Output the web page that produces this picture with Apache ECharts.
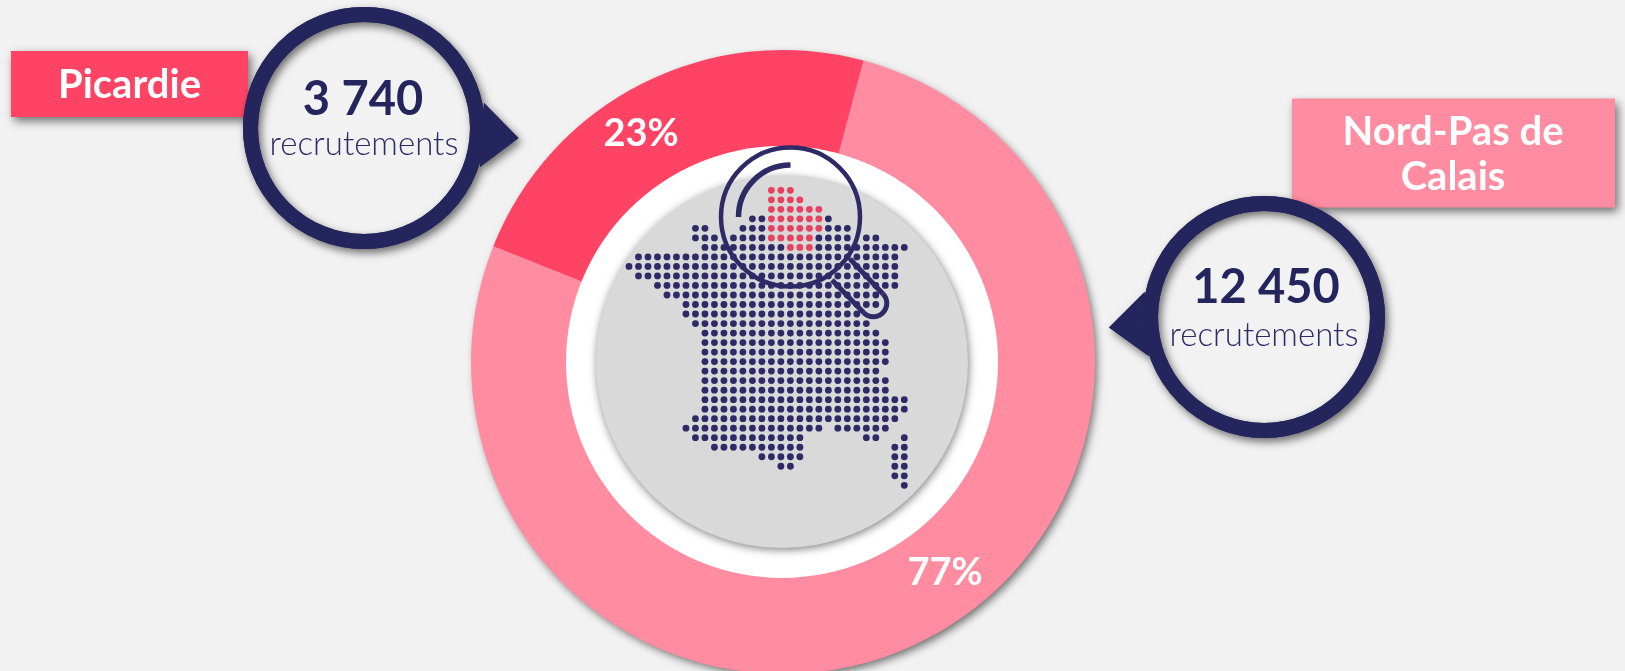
<!DOCTYPE html>
<html>
<head>
<meta charset="utf-8">
<title>Recrutements</title>
<script src="https://cdn.jsdelivr.net/npm/echarts@6/dist/echarts.min.js"></script>
<style>
html, body { margin: 0; padding: 0; background: #f2f2f2; }
#chart { width: 1625px; height: 671px; }
</style>
</head>
<body>
<div id="chart"></div>
<script>
const regions = ['Picardie', 'Nord-Pas de\nCalais'];
const recruitments = [3740, 12450];
const unitLabel = 'recrutements';

// dot map of France: n = navy dot, r = highlighted region
const mapRows = [
  '...............rrr',
  '...............rrrr',
  '...............rrrrrr',
  '.............nnrrrrrrn',
  '.......nn...nnnrrrrrrnnn',
  '.......nnn.nnnnrrrrrnnnn.nn',
  '........nnnnnnnnnrrrnnnnnnnnnn',
  '.nnnnnnnnnnnnnnnnnnnnnnnnnnnn',
  'nnnnnnnnnnnnnnnnnnnnnnnnnnnnn',
  '.nnnnnnnnnnnnnnnnnnnnnnnnnnnn',
  '...nnnnnnnnnnnnnnnnnnnnnnnnnn',
  '....nnnnnnnnnnnnnnnnnnnnnnn',
  '......nnnnnnnnnnnnnnnnnnnnn',
  '......nnnnnnnnnnnnnnnnnnn',
  '.......nnnnnnnnnnnnnnnnnnn',
  '........nnnnnnnnnnnnnnnnnnn',
  '........nnnnnnnnnnnnnnnnnnnn',
  '........nnnnnnnnnnnnnnnnnnnn',
  '........nnnnnnnnnnnnnnnnnnnn',
  '........nnnnnnnnnnnnnnnnnnn',
  '........nnnnnnnnnnnnnnnnnnnn',
  '........nnnnnnnnnnnnnnnnnnnn',
  '........nnnnnnnnnnnnnnnnnnnnnn',
  '........nnnnnnnnnnnnnnnnnnnnnn',
  '.......nnnnnnnnnnnnnnnnnnnnnn',
  '......nnnnnnnnnnnnnnn.nnnnnn',
  '.......nnnnnnnnnnnn......nn..n',
  '.........nnnnnnnnnn.........nn',
  '..............nnnnn.........nn',
  '................nn..........nn',
  '............................nn',
  '.............................n'
];

const pink = '#ff8ca1';
const red = '#ff4365';
const navy = '#23255c';
const dotNavy = '#2d2a66';
const dotRed = '#e8405f';
const font = 'Lato, "Open Sans", sans-serif';
const shadow = { shadowBlur: 9, shadowOffsetX: 3, shadowOffsetY: 4, shadowColor: 'rgba(0,0,0,0.55)' };

const navyDots = [];
const redDots = [];
mapRows.forEach((row, y) => {
  row.split('').forEach((c, x) => {
    if (c === 'n') navyDots.push([x, y]);
    if (c === 'r') redDots.push([x, y]);
  });
});

function formatCount(v) {
  return String(v).replace(/\B(?=(\d{3})+$)/g, ' ');
}

// bubble with pointer: ring stroked without fill so its shadow also falls inside,
// then a clean copy on top so the pointer and ring merge
function callout(cx, cy, tip, base1, base2, value, numX, numY, unitY) {
  const points = [base1, tip, base2];
  const ring = { cx, cy, r: 113.5 };
  return [
    { type: 'polygon', z: 10, shape: { points }, style: Object.assign({ fill: navy }, shadow) },
    { type: 'circle', z: 10, shape: ring, style: Object.assign({ fill: 'none', stroke: navy, lineWidth: 15 }, shadow) },
    { type: 'polygon', z: 11, shape: { points }, style: { fill: navy } },
    { type: 'circle', z: 11, shape: ring, style: { fill: 'none', stroke: navy, lineWidth: 15 } },
    { type: 'text', z: 12, style: { text: formatCount(value), x: numX, y: numY, align: 'center', verticalAlign: 'middle', fill: navy, font: 'bold 47px ' + font } },
    { type: 'text', z: 12, style: { text: unitLabel, x: cx, y: unitY, align: 'center', verticalAlign: 'middle', fill: dotNavy, font: '300 33px ' + font } }
  ];
}

function tag(x, y, w, h, fill, text, tx, ty, lh) {
  return [
    { type: 'rect', z: 9, shape: { x, y, width: w, height: h }, style: Object.assign({ fill }, shadow) },
    { type: 'text', z: 12, style: { text, x: tx, y: ty, align: 'center', verticalAlign: 'middle', fill: '#fff', lineHeight: lh, font: 'bold 40px ' + font } }
  ];
}

const chart = echarts.init(document.getElementById('chart'));

chart.setOption({
  animation: false,
  backgroundColor: '#f2f2f2',
  grid: { left: 629, top: 190.3, width: 275.3, height: 295 },
  xAxis: { type: 'value', min: 0, max: 29, show: false },
  yAxis: { type: 'value', min: 0, max: 31, inverse: true, show: false },
  series: [{
    type: 'pie',
    z: 1,
    silent: true,
    center: [783, 362],
    radius: [216, 312],
    startAngle: 158.2,
    color: [red, pink],
    labelLine: { show: false },
    label: {
      position: 'inside',
      color: '#fff',
      fontFamily: font,
      fontWeight: 'bold',
      fontSize: 38,
      formatter: p => Math.round(p.percent) + '%'
    },
    labelLayout: p => (p.dataIndex === 0
      ? { x: 641, y: 134, align: 'center', verticalAlign: 'middle' }
      : { x: 945, y: 573, align: 'center', verticalAlign: 'middle' }),
    data: regions.map((name, i) => ({ name, value: recruitments[i] }))
  }, {
    type: 'scatter',
    z: 5,
    silent: true,
    symbolSize: 6.8,
    itemStyle: { color: dotNavy, opacity: 1 },
    data: navyDots
  }, {
    type: 'scatter',
    z: 5,
    silent: true,
    symbolSize: 6.8,
    itemStyle: { color: dotRed, opacity: 1 },
    data: redDots
  }],
  graphic: [
    // discs and ring shadow
    { type: 'circle', z: 0, shape: { cx: 783, cy: 362, r: 311 }, style: Object.assign({ fill: pink }, shadow) },
    { type: 'circle', z: 2, shape: { cx: 782, cy: 362, r: 216 }, style: { fill: '#fff' } },
    { type: 'circle', z: 3, shape: { cx: 782, cy: 362, r: 186 }, style: { fill: '#d9d9d9', shadowBlur: 9, shadowOffsetX: 1, shadowOffsetY: 2, shadowColor: 'rgba(0,0,0,0.5)' } },
    // magnifier
    { type: 'circle', z: 6, shape: { cx: 790.5, cy: 217, r: 69.5 }, style: { fill: 'none', stroke: dotNavy, lineWidth: 4.5 } },
    { type: 'arc', z: 6, shape: { cx: 790.5, cy: 217, r: 52, startAngle: Math.PI, endAngle: Math.PI * 1.5, clockwise: true }, style: { fill: 'none', stroke: dotNavy, lineWidth: 5.5 } },
    { type: 'polyline', z: 6, shape: { points: [[850, 259], [882.8, 293.8]] }, style: { fill: 'none', stroke: dotNavy, lineWidth: 5 } },
    { type: 'polyline', z: 6, shape: { points: [[832, 280], [863.8, 312.8]] }, style: { fill: 'none', stroke: dotNavy, lineWidth: 5 } },
    { type: 'arc', z: 6, shape: { cx: 873.3, cy: 303.3, r: 13.5, startAngle: -Math.PI / 4, endAngle: Math.PI * 0.75, clockwise: true }, style: { fill: 'none', stroke: dotNavy, lineWidth: 5 } }
  ].concat(
    tag(11, 51, 237, 66, red, regions[0], 129.5, 85, 44),
    tag(1292, 98.5, 323, 109, pink, regions[1], 1453, 155, 45),
    callout(364, 128, [518.5, 138], [484, 103], [480, 167], recruitments[0], 363, 100, 144),
    callout(1264, 317, [1109, 327.5], [1144.6, 292], [1148.7, 356], recruitments[1], 1266, 288, 335)
  )
});
</script>
</body>
</html>
